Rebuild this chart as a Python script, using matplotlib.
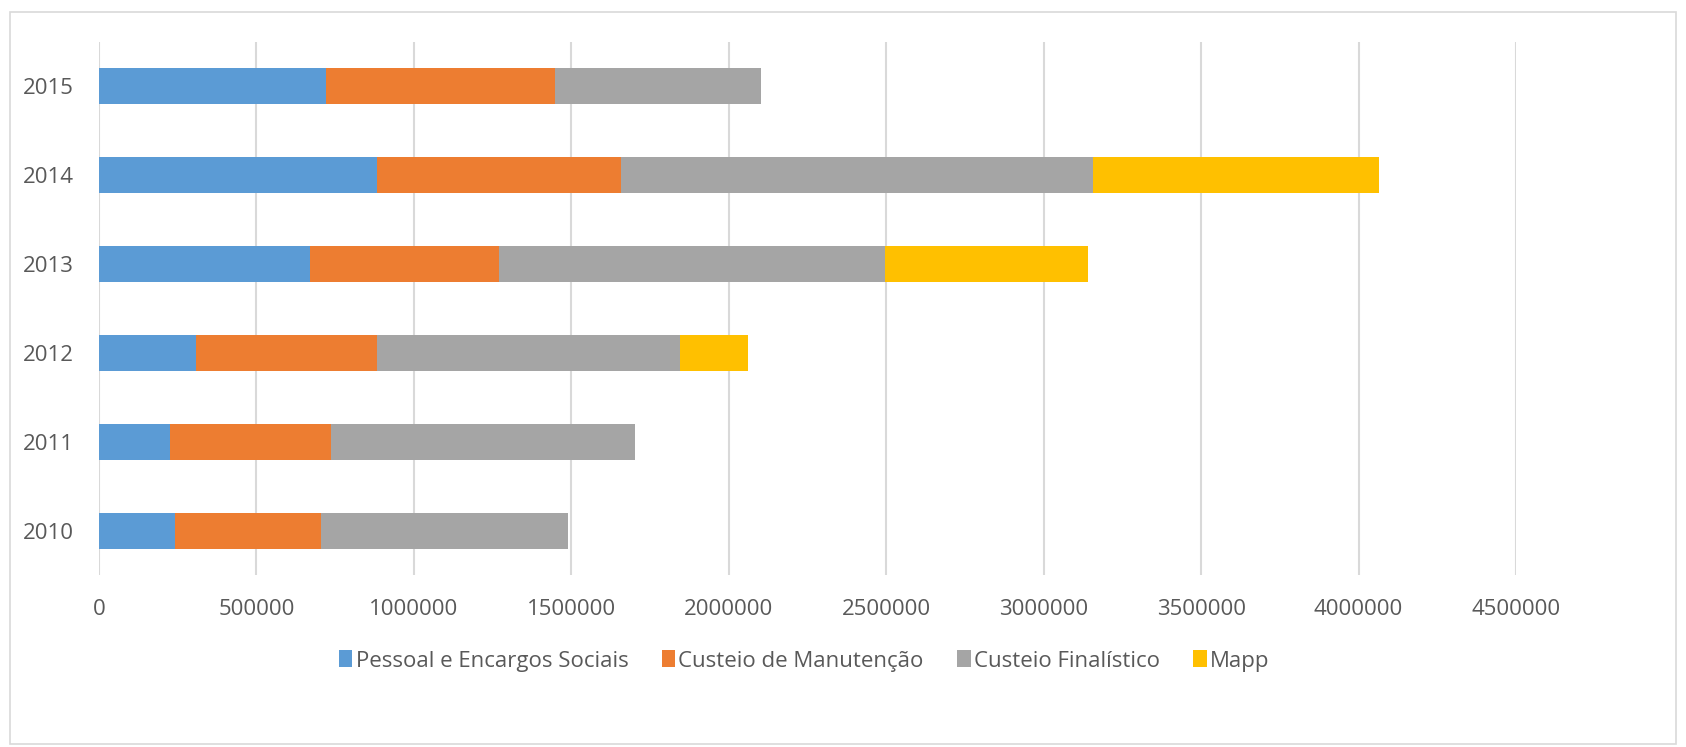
import numpy as np
import matplotlib
matplotlib.use("Agg")
import matplotlib.pyplot as plt
from matplotlib.patches import Rectangle

plt.rcParams['font.family'] = ['Open Sans', 'DejaVu Sans']

anos = ["2010", "2011", "2012", "2013", "2014", "2015"]
pessoal = [240000, 224000, 308000, 671000, 883000, 721000]
manutencao = [465000, 514000, 575000, 598000, 775000, 727000]
finalistico = [785000, 964000, 961000, 1226000, 1499000, 655000]
mapp = [0, 0, 218000, 645000, 908000, 0]

series = [("Pessoal e Encargos Sociais", pessoal, "#5b9bd5"),
          ("Custeio de Manutenção", manutencao, "#ed7d31"),
          ("Custeio Finalístico", finalistico, "#a5a5a5"),
          ("Mapp", mapp, "#ffc000")]

fig = plt.figure(figsize=(16.86, 7.47), dpi=100)
ax = fig.add_axes([0.0587, 0.2296, 0.8405, 0.7148])

y = np.arange(len(anos))
left = np.zeros(len(anos))
for nome, vals, cor in series:
    ax.barh(y, vals, left=left, height=0.4, color=cor, label=nome, zorder=3)
    left = left + np.array(vals)

ax.set_xlim(0, 4500000)
ax.set_ylim(-0.5, len(anos) - 0.5)
ax.set_xticks(np.arange(0, 4500001, 500000))
ax.set_xticklabels([str(v) for v in range(0, 4500001, 500000)])
ax.set_yticks(y)
ax.set_yticklabels(anos)
ax.grid(axis="x", color="#d9d9d9", linewidth=1.5, zorder=0)
for s in ax.spines.values():
    s.set_visible(False)
ax.tick_params(axis="both", length=0, labelsize=16, colors="#595959")
ax.tick_params(axis="x", pad=17)
ax.tick_params(axis="y", pad=18)

leg = fig.legend(loc="center", bbox_to_anchor=(0.477, 0.115), ncol=4, frameon=False,
                 fontsize=16, handlelength=0.6, handleheight=0.8, handletextpad=0.15,
                 columnspacing=1.5, labelcolor="#595959")

fig.patches.append(Rectangle((0.006, 0.004), 0.988, 0.98, transform=fig.transFigure,
                             fill=False, edgecolor="#d9d9d9", linewidth=1.2))

fig.savefig("out.png", dpi=100)
